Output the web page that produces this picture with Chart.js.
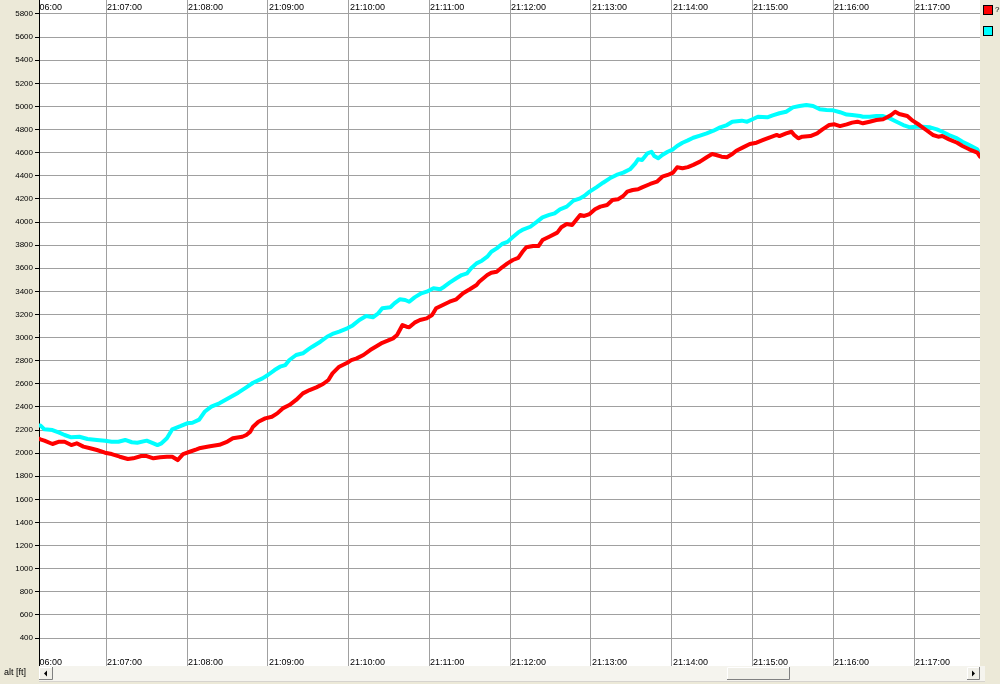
<!DOCTYPE html>
<html>
<head>
<meta charset="utf-8">
<script src="https://cdn.jsdelivr.net/npm/chart.js@4/dist/chart.umd.min.js"></script>
<style>
  html, body { margin: 0; padding: 0; background: #ECE9D8; }
  canvas { display: block; }
</style>
</head>
<body>
<canvas id="c" width="1000" height="684"></canvas>
<script>
// Time axis: seconds after 21:06:00
const startClock = [21, 6, 0];
const tickSeconds = [60, 120, 180, 240, 300, 360, 420, 480, 540, 600, 660];
const labelSeconds = [0, 60, 120, 180, 240, 300, 360, 420, 480, 540, 600, 660];
const yTicks = [400, 600, 800, 1000, 1200, 1400, 1600, 1800, 2000, 2200, 2400, 2600, 2800, 3000, 3200, 3400, 3600, 3800, 4000, 4200, 4400, 4600, 4800, 5000, 5200, 5400, 5600, 5800];
const yAxisTitle = 'alt [ft]';

const seriesNames = ['?', ''];
const seriesColors = ['#FF0000', '#00FFFF'];

const redTimes = [10,11,14,20,25,29,34,38,43,48,53,59,64,70,76,80,86,90,95,100,105,109,113,117,122,127,129,137,144,150,154,161,164,167,169,173,178,183,187,191,196,201,206,211,216,221,225,228,233,239,242,246,251,256,261,265,269,273,276,278,280,283,285,289,293,298,302,305,310,315,320,325,330,335,337,343,346,350,354,358,362,366,369,372,377,381,384,389,395,398,402,406,409,412,415,419,423,427,432,436,440,444,447,451,455,458,464,469,473,477,481,484,488,492,496,501,506,510,513,517,521,525,528,533,538,543,548,553,558,560,565,569,571,574,577,583,588,592,597,601,605,610,614,618,622,627,632,637,640,643,646,649,655,659,664,669,674,678,681,686,692,696,701,707,709];
const redAlt = [2125,2119,2108,2079,2099,2099,2070,2085,2056,2042,2027,2004,1992,1969,1949,1955,1975,1975,1955,1964,1969,1969,1940,1992,2012,2033,2042,2060,2072,2100,2128,2142,2157,2186,2229,2272,2301,2315,2344,2387,2416,2460,2517,2546,2569,2598,2633,2690,2748,2782,2805,2820,2849,2892,2927,2955,2973,2993,3022,3065,3109,3094,3089,3129,3152,3166,3195,3253,3282,3310,3331,3383,3418,3455,3483,3541,3561,3570,3608,3642,3671,3690,3740,3781,3792,3792,3844,3873,3908,3954,3983,3974,4017,4061,4052,4069,4110,4133,4147,4190,4196,4225,4263,4277,4283,4300,4329,4349,4392,4407,4427,4473,4465,4475,4494,4522,4560,4588,4580,4565,4560,4588,4617,4646,4675,4686,4710,4733,4753,4744,4767,4781,4753,4724,4738,4744,4767,4802,4839,4845,4830,4845,4860,4868,4854,4868,4883,4889,4906,4926,4954,4935,4917,4877,4839,4796,4753,4738,4744,4715,4686,4658,4629,4600,4565];

const cyanTimes = [10,11,14,20,25,29,34,40,46,53,59,64,69,74,79,83,90,95,98,101,105,109,115,120,124,129,133,138,144,152,158,164,169,176,180,185,189,193,196,201,206,210,213,219,224,228,233,239,243,248,253,258,262,265,271,274,278,282,285,289,294,298,303,308,311,315,320,324,328,331,335,339,343,346,350,354,358,362,366,369,375,380,384,389,393,397,402,407,412,415,419,424,429,434,439,444,449,453,455,458,462,465,467,470,473,477,481,484,488,492,496,501,506,511,516,521,525,532,536,540,544,551,555,560,565,570,575,580,585,590,595,600,605,610,614,620,622,627,632,637,642,647,652,657,662,666,672,677,681,686,692,696,701,707,709];
const cyanAlt = [2240,2240,2206,2200,2177,2157,2137,2142,2122,2114,2108,2099,2099,2114,2094,2090,2108,2085,2070,2085,2128,2206,2233,2258,2263,2290,2358,2402,2431,2483,2523,2569,2609,2647,2676,2719,2748,2762,2806,2849,2864,2898,2921,2964,3007,3031,3051,3080,3105,3152,3186,3175,3210,3253,3262,3296,3331,3325,3310,3348,3383,3397,3426,3418,3440,3475,3513,3541,3556,3599,3642,3665,3700,3743,3772,3810,3828,3870,3910,3931,3959,4003,4040,4061,4075,4110,4133,4185,4205,4225,4263,4300,4340,4378,4407,4427,4456,4508,4543,4537,4594,4608,4571,4551,4580,4608,4629,4658,4686,4706,4729,4748,4767,4790,4819,4839,4868,4877,4868,4889,4911,4906,4923,4941,4954,4992,5004,5012,5004,4975,4969,4966,4950,4930,4926,4917,4911,4911,4917,4917,4897,4868,4839,4819,4825,4825,4819,4802,4781,4753,4724,4695,4666,4629,4580];

const BEIGE = '#ECE9D8';
const GRID = '#A0A0A0';
const FONT = '"Liberation Sans", Arial, sans-serif';

function clockLabel(sec) {
  let total = startClock[0] * 3600 + startClock[1] * 60 + startClock[2] + sec;
  const h = Math.floor(total / 3600); total -= h * 3600;
  const m = Math.floor(total / 60); const s = total - m * 60;
  const p = n => String(n).padStart(2, '0');
  return p(h) + ':' + p(m) + ':' + p(s);
}

const toPoints = (ts, vs) => ts.map((t, i) => ({ x: t, y: vs[i] }));

const frame = {
  id: 'frame',
  beforeDraw(chart) {
    const { ctx, chartArea: a } = chart;
    ctx.save();
    ctx.fillStyle = BEIGE;
    ctx.fillRect(0, 0, chart.width, chart.height);
    ctx.fillStyle = '#FFFFFF';
    ctx.fillRect(a.left, a.top, a.right - a.left, a.bottom - a.top);
    ctx.restore();
  },
  afterDraw(chart) {
    const { ctx, chartArea: a } = chart;
    const xs = chart.scales.x;
    ctx.save();
    ctx.beginPath();
    ctx.rect(a.left, a.top, a.right - a.left, a.bottom - a.top);
    ctx.clip();
    ctx.fillStyle = '#000000';
    ctx.font = '9px ' + FONT;
    ctx.textAlign = 'left';
    ctx.textBaseline = 'alphabetic';
    labelSeconds.forEach(s => {
      const px = Math.round(xs.getPixelForValue(s)) + 1;
      const txt = clockLabel(s);
      ctx.fillText(txt, px, a.top + 10);
      ctx.fillText(txt, px, a.bottom - 1);
    });
    ctx.restore();

    ctx.save();
    const sy = a.bottom + 1, sh = 13;
    ctx.fillStyle = '#F5F4EE';
    ctx.fillRect(a.left, a.bottom, 946, chart.height - a.bottom - 3);
    ctx.fillStyle = '#D6D3CE';
    ctx.fillRect(a.left, chart.height - 3, 946, 1);
    const button = (x, w) => {
      ctx.fillStyle = '#F0EFE8';
      ctx.fillRect(x, sy, w, sh);
      ctx.strokeStyle = '#FFFFFF';
      ctx.beginPath(); ctx.moveTo(x + 0.5, sy + sh); ctx.lineTo(x + 0.5, sy + 0.5); ctx.lineTo(x + w, sy + 0.5); ctx.stroke();
      ctx.strokeStyle = '#808080';
      ctx.beginPath(); ctx.moveTo(x + w - 0.5, sy); ctx.lineTo(x + w - 0.5, sy + sh - 0.5); ctx.lineTo(x, sy + sh - 0.5); ctx.stroke();
    };
    button(a.left, 14);
    button(a.right - 13, 13);
    button(727, 63);
    ctx.fillStyle = '#000000';
    const cy = sy + sh / 2;
    ctx.beginPath(); ctx.moveTo(a.left + 5, cy); ctx.lineTo(a.left + 8, cy - 3); ctx.lineTo(a.left + 8, cy + 3); ctx.closePath(); ctx.fill();
    const rx = a.right - 13;
    ctx.beginPath(); ctx.moveTo(rx + 8, cy); ctx.lineTo(rx + 5, cy - 3); ctx.lineTo(rx + 5, cy + 3); ctx.closePath(); ctx.fill();

    ctx.fillStyle = '#000000';
    ctx.font = '9px ' + FONT;
    ctx.textAlign = 'left';
    ctx.textBaseline = 'middle';
    ctx.fillText(yAxisTitle, 4, 673);

    chart.data.datasets.forEach((ds, i) => {
      const lx = a.right + 3, ly = 5 + i * 21;
      ctx.fillStyle = ds.borderColor;
      ctx.fillRect(lx, ly, 10, 10);
      ctx.strokeStyle = '#000000';
      ctx.lineWidth = 1;
      ctx.strokeRect(lx + 0.5, ly + 0.5, 9, 9);
      if (ds.label) {
        ctx.fillStyle = '#000000';
        ctx.font = '8px ' + FONT;
        ctx.textBaseline = 'middle';
        ctx.fillText(ds.label, lx + 12, ly + 5);
      }
    });
    ctx.restore();
  }
};

new Chart(document.getElementById('c'), {
  type: 'line',
  data: {
    datasets: [
      { label: seriesNames[0], data: toPoints(redTimes, redAlt), borderColor: seriesColors[0], backgroundColor: seriesColors[0] },
      { label: seriesNames[1], data: toPoints(cyanTimes, cyanAlt), borderColor: seriesColors[1], backgroundColor: seriesColors[1] }
    ]
  },
  options: {
    responsive: false,
    animation: false,
    devicePixelRatio: 1,
    layout: { padding: { left: 0, top: 0, right: 20, bottom: 18 } },
    elements: {
      line: { borderWidth: 4, tension: 0, borderJoinStyle: 'round', borderCapStyle: 'round' },
      point: { radius: 0, hoverRadius: 0 }
    },
    plugins: { legend: { display: false }, tooltip: { enabled: false } },
    scales: {
      x: {
        type: 'linear',
        min: 10,
        max: 709,
        afterBuildTicks: s => { s.ticks = tickSeconds.map(v => ({ value: v })); },
        afterFit: s => { s.height = 0; s.paddingLeft = 0; s.paddingRight = 0; },
        grid: { color: GRID, lineWidth: 1, drawTicks: false },
        border: { display: false },
        ticks: { display: false }
      },
      y: {
        min: 158,
        max: 5921,
        afterBuildTicks: s => { s.ticks = yTicks.map(v => ({ value: v })); },
        afterFit: s => { s.width = 39; s.paddingTop = 0; s.paddingBottom = 0; },
        grid: { color: GRID, lineWidth: 1, drawTicks: true, tickLength: 4, tickColor: '#000000' },
        border: { display: true, color: '#000000', width: 1 },
        ticks: { color: '#000000', font: { family: FONT, size: 8 }, padding: 2, autoSkip: false, callback: v => String(v) }
      }
    }
  },
  plugins: [frame]
});
</script>
</body>
</html>
